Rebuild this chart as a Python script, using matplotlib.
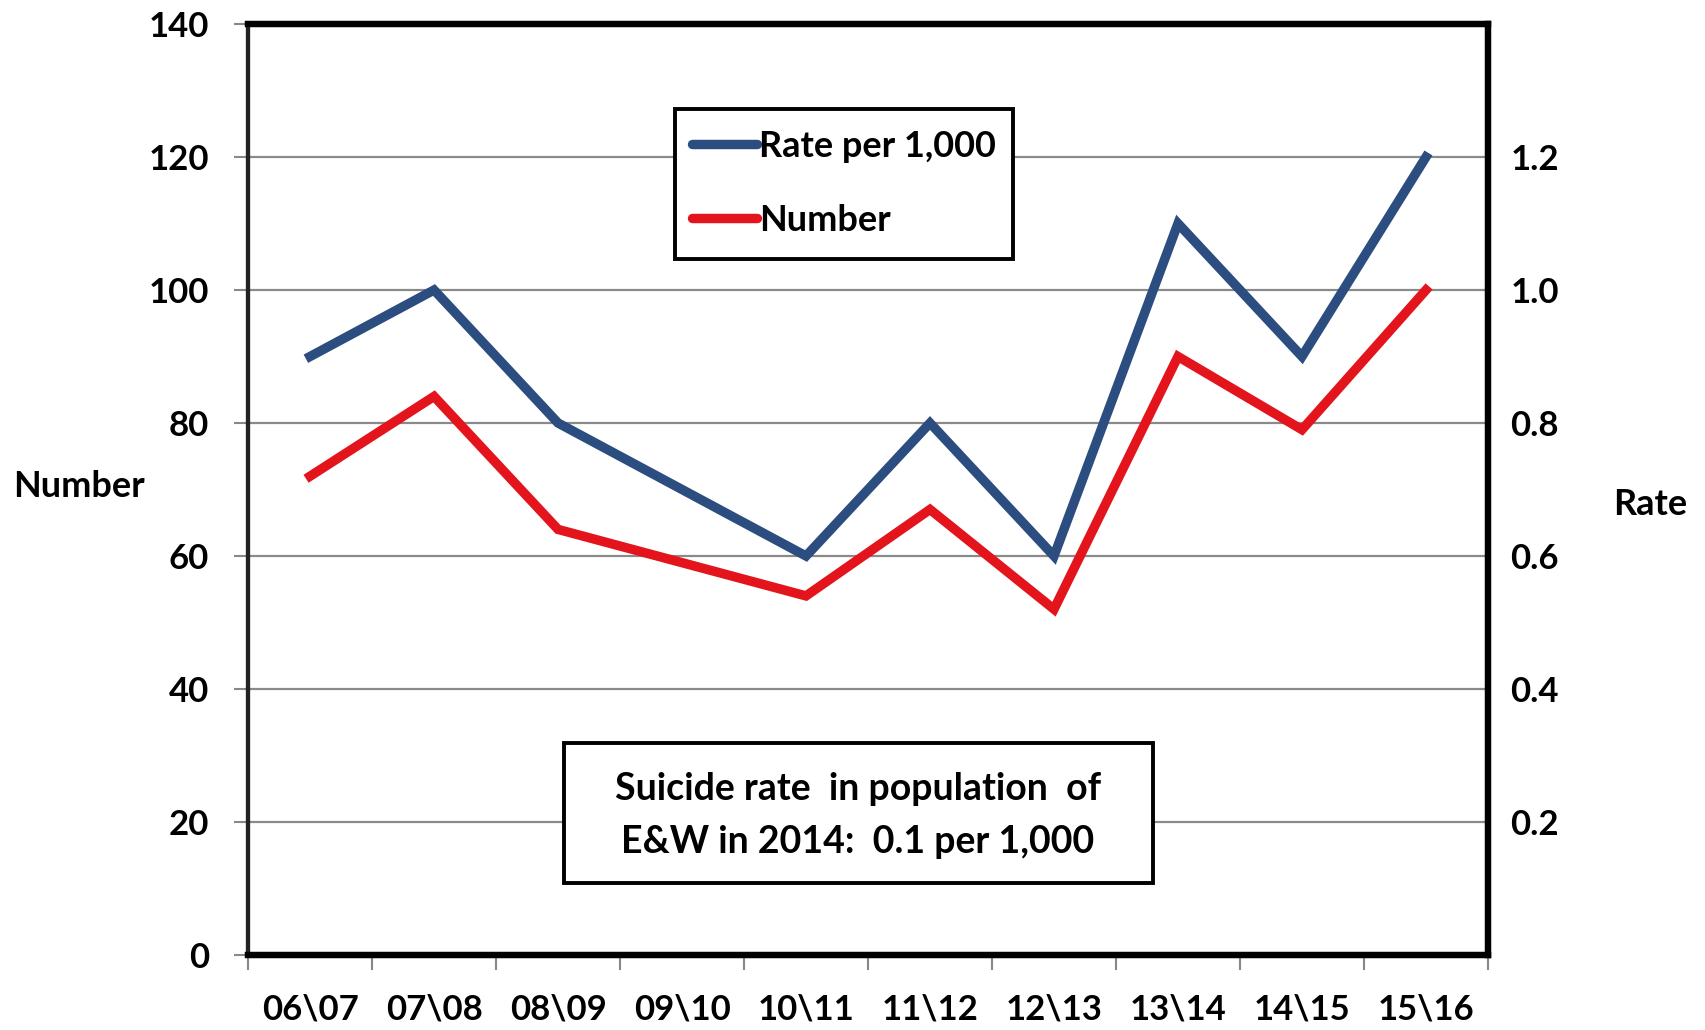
import matplotlib
matplotlib.use('Agg')

import numpy as np
import matplotlib.pyplot as plt
from matplotlib.patches import Rectangle
from matplotlib.lines import Line2D

plt.rcParams['font.family'] = ['Lato', 'DejaVu Sans']
plt.rcParams['font.weight'] = 'bold'

years = ['06\\07', '07\\08', '08\\09', '09\\10', '10\\11',
         '11\\12', '12\\13', '13\\14', '14\\15', '15\\16']
rate = [0.9, 1.0, 0.8, 0.7, 0.6, 0.8, 0.6, 1.1, 0.9, 1.2]
number = [72, 84, 64, 59, 54, 67, 52, 90, 79, 100]

num_ticks = [0, 20, 40, 60, 80, 100, 120, 140]
rate_ticks = [0.2, 0.4, 0.6, 0.8, 1.0, 1.2]

blue = '#2c4d7f'
red = '#e3141c'
fs = 25

fig = plt.figure(figsize=(17.06, 10.30), dpi=100)
ax = fig.add_axes([0.1454, 0.0728, 0.8722 - 0.1454, 0.9767 - 0.0728])
ax2 = ax.twinx()

x = np.arange(len(years))
ax.plot(x, number, color=red, lw=6.8, solid_joinstyle='miter', zorder=3)
ax2.plot(x, rate, color=blue, lw=6.8, solid_joinstyle='miter', zorder=3)

ax.set_xlim(-0.5, len(years) - 0.5)
ax.set_ylim(0, 140)
ax2.set_ylim(0, 1.4)

# horizontal grid
for v in num_ticks[1:-1]:
    ax.axhline(v, color='#8a8a8a', lw=1.6, zorder=1)

ax.set_yticks(num_ticks)
ax.set_yticklabels([str(v) for v in num_ticks], fontsize=fs, fontweight='bold')
ax.tick_params(axis='y', direction='out', length=10, width=1.5, color='#888888', pad=18)

ax.set_xticks(np.arange(len(years) + 1) - 0.5)
ax.set_xticklabels([])
ax.set_xticks(x, minor=True)
ax.set_xticklabels(years, minor=True, fontsize=fs, fontweight='bold')
ax.tick_params(axis='x', which='major', direction='out', length=11, width=1.5, color='#888888')
ax.tick_params(axis='x', which='minor', length=0, pad=28)

ax2.set_yticks(rate_ticks)
ax2.set_yticklabels(['%.1f' % v for v in rate_ticks], fontsize=fs, fontweight='bold')
ax2.tick_params(axis='y', length=0, pad=16)

for a in (ax, ax2):
    for side in ('top', 'right', 'bottom'):
        a.spines[side].set_linewidth(4.5)
        a.spines[side].set_color('black')
    a.spines['left'].set_linewidth(3)
    a.spines['left'].set_color('#222222')

fig.text(0.046, 0.528, 'Number', fontsize=26, fontweight='bold', ha='center', va='center')
fig.text(0.967, 0.510, 'Rate', fontsize=26, fontweight='bold', ha='center', va='center')

# legend box
ax2.add_patch(Rectangle((0.344, 0.748), 0.273, 0.161, transform=ax2.transAxes,
                        facecolor='white', edgecolor='black', lw=2.8, zorder=5))
handles = [Line2D([], [], color=blue, lw=6.8, solid_capstyle='round'),
           Line2D([], [], color=red, lw=6.8, solid_capstyle='round')]
leg = ax2.legend(handles, ['Rate per 1,000', 'Number'], loc='upper left',
                 bbox_to_anchor=(0.358, 0.886), frameon=False,
                 borderpad=0, borderaxespad=0,
                 handlelength=1.8, handletextpad=0.05, labelspacing=1.13,
                 prop={'weight': 'bold', 'size': 26})
leg.set_zorder(6)

# note box
ax2.add_patch(Rectangle((0.255, 0.077), 0.475, 0.151, transform=ax2.transAxes,
                        facecolor='white', edgecolor='black', lw=2.8, zorder=5))
ax2.text(0.492, 0.150, 'Suicide rate  in population  of\nE&W in 2014:  0.1 per 1,000',
         transform=ax2.transAxes, ha='center', va='center', fontsize=27,
         fontweight='bold', linespacing=1.7, zorder=6)

fig.savefig('out.png', dpi=100)
